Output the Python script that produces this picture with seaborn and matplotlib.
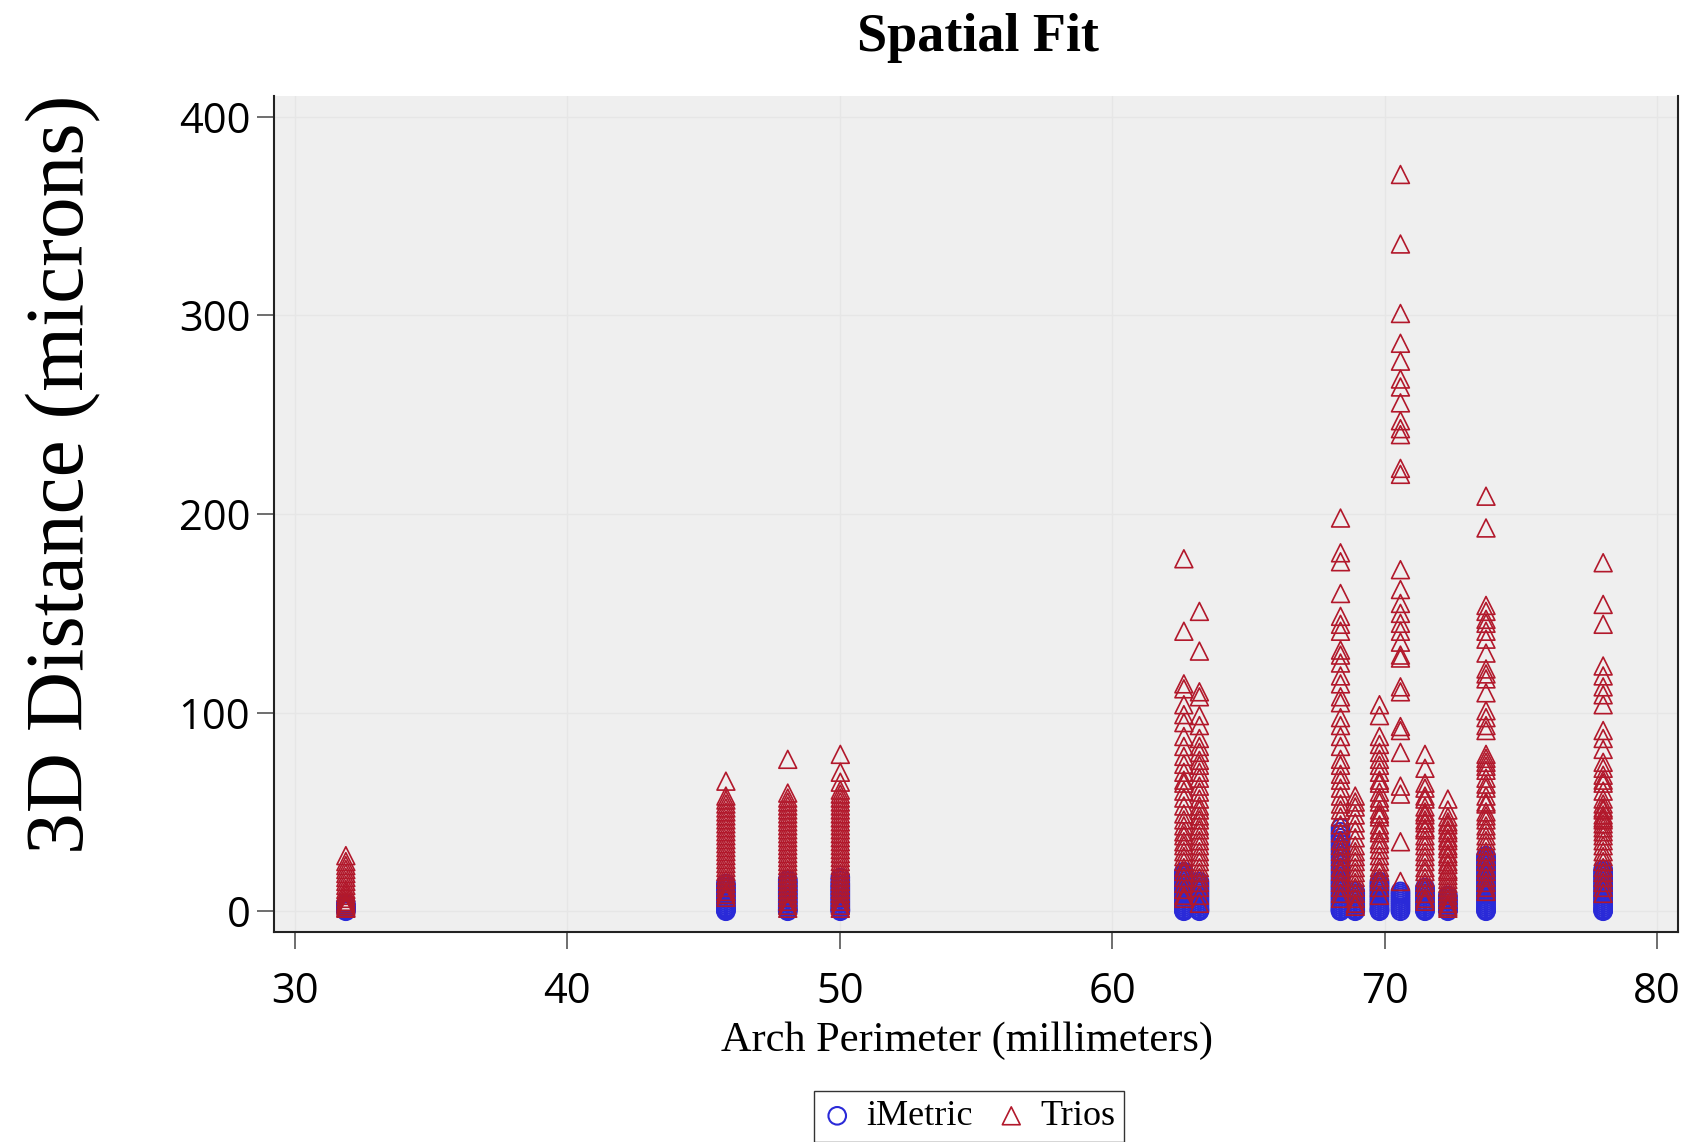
import pandas as pd
import matplotlib
matplotlib.use("Agg")
import matplotlib.pyplot as plt
import seaborn as sns

# arch perimeter (mm) of each scanned arch
arch_perimeter = [31.87, 45.82, 48.09, 50.02, 62.63, 63.2, 68.38, 68.92, 69.81, 70.58, 71.48, 72.32, 73.72, 78.02]

# 3D distance (microns), one list per arch
trios_distance = [
    [28, 25, 23, 21, 19, 17, 15, 13, 11, 9.5, 8, 6.5, 5, 4, 3, 2, 1.5],
    [65.5, 58, 56, 54, 52, 50, 48, 46, 44, 42, 40, 38, 36, 34, 32, 30, 28, 26, 24, 22, 20, 18, 16, 14, 12, 10,
     8.5, 7],
    [76.5, 59.5, 57, 55, 53, 51, 49, 47, 45, 43, 41, 39, 37, 35, 33, 31, 29, 27, 25, 23, 21, 19, 17, 15, 13,
     11, 9, 7, 5, 3, 1.5],
    [79, 70, 65, 61, 59, 57, 55, 53, 51, 49, 47, 45, 43, 41, 39, 37, 35, 33, 31, 29, 27, 25, 23, 21, 19, 17,
     15, 13, 11, 9, 7, 5, 3, 1.5],
    [177.5, 141, 114.5, 112, 104, 99, 95, 88, 83, 78, 74, 70, 66, 64.5, 60.5, 57, 53, 49, 46, 43, 40, 38, 35,
     33, 30, 27.5, 25, 22, 20, 17, 14, 11, 8, 6.5],
    [151, 131, 110.5, 108, 98.5, 93.5, 87, 83, 80, 76, 73.5, 70, 67, 63, 60, 56.5, 53, 51, 48, 46, 43, 41, 38,
     35.5, 33, 30, 27.5, 25, 22, 19.5, 17, 14.5, 12, 8, 4],
    [198, 180.5, 176, 160, 148.5, 144.5, 141, 131.5, 129, 125, 118.5, 114.5, 108, 105, 97.5, 93.5, 88, 83,
     76.5, 73.5, 69, 66, 62, 58, 54, 51, 47.5, 43.5, 39.5, 35.5, 33, 30, 27.5, 25, 22, 20, 17, 14.5, 12, 9,
     6.5],
    [58, 55, 52.5, 48.5, 44.5, 41, 37, 33, 30, 27.5, 25, 22, 19.5, 17, 14.5, 12, 9, 6.5, 4, 2.5],
    [104, 98.5, 88, 84, 80, 76.5, 73.5, 70, 66, 64.5, 60, 57, 55, 51, 49, 47.5, 43.5, 41, 39.5, 36, 34, 31,
     28, 25, 22, 20, 17, 15, 12, 8],
    [371, 336, 301, 286, 277, 268, 264, 256, 247, 243, 240, 223, 220, 172, 162, 155, 150, 145, 141, 135.5,
     129, 127.5, 113, 110.5, 93, 91, 80, 63, 59, 35, 15],
    [79, 72, 64.5, 62, 58, 56.5, 52.5, 50, 48.5, 46, 44.5, 42, 41, 38, 35.5, 33, 30, 27.5, 25, 22, 20, 17,
     14.5, 12, 9, 6.5, 5],
    [56.5, 51, 47.5, 45, 43.5, 41, 39.5, 37, 35.5, 33, 31.5, 29, 27.5, 25, 23.5, 21, 20, 18, 16, 14, 12, 10,
     8, 6, 4, 2.5, 1.5],
    [209, 193, 154, 151, 147, 145, 141, 137, 130, 122, 119.5, 117, 110, 101, 97.5, 93.5, 91, 79, 77, 75, 73,
     71, 67, 64, 62, 58, 55, 54, 50, 48, 46, 43, 41, 38, 35.5, 33, 30, 27.5, 25, 22, 20, 17, 14.5, 12, 10],
    [175.5, 154.5, 144.5, 123.5, 118.5, 113, 109, 104, 91, 87, 81.5, 75, 72, 68.5, 66, 64.5, 60.5, 56.5, 54,
     52, 51, 48.5, 47, 46, 44, 42, 40, 38, 35.5, 33, 30, 27.5, 25, 22, 19.5, 17, 14.5, 12, 9],
]

imetric_distance = [
    [0, 0.5, 1, 1.5, 2, 2.5, 3, 4],
    [0, 0.5, 1, 1.5, 2, 3, 4, 5, 6, 7, 8, 9, 10, 11, 12, 13, 14],
    [0, 0.5, 1, 2, 3, 4, 5, 6, 7, 8, 9, 10, 11, 12, 13, 14, 15, 16],
    [0, 0.5, 1, 2, 3, 4, 5, 6, 7, 8, 9, 10, 11, 12, 13, 14, 15.5, 17],
    [0, 0.5, 1, 2, 3, 4, 5, 6, 7, 8, 9, 10, 11, 12, 13, 14, 15, 16, 17, 18, 19, 20],
    [0, 0.5, 1, 2, 3, 4, 5, 6, 7, 8, 9, 10, 11, 12, 13, 14, 15],
    [0, 0.5, 1, 2, 3, 4, 5, 6, 7, 8, 9, 10, 11, 12, 13, 14, 15, 16, 17.5, 19, 20.5, 22, 23.5, 25, 26.5, 28,
     29.5, 31, 32.5, 34, 35.5, 37, 38.5, 40, 42],
    [0, 0.5, 1, 2, 3, 4, 5, 6, 7, 8, 9, 10],
    [0, 0.5, 1, 2, 3, 4, 5, 6, 7, 8, 9, 10, 11, 12, 13, 14, 15],
    [0, 1, 2, 3, 4, 5, 6, 7, 8, 9, 10],
    [0, 0.5, 1, 2, 3, 4, 5, 6, 7, 8, 9, 10, 11, 12],
    [0, 0.5, 1, 2, 3, 4, 5, 6, 7, 8],
    [0, 0.5, 1, 2, 3, 4, 5, 6, 7, 8, 9, 10, 11, 12, 13, 14, 15, 16, 17, 18, 19, 20, 21, 22, 23, 24, 25, 26,
     27, 28],
    [0, 0.5, 1, 2, 3, 4, 5, 6, 7, 8, 9, 10, 11, 12, 13, 14, 15, 16, 17, 18, 19, 20, 21],
]

x_ticks = [30, 40, 50, 60, 70, 80]
y_ticks = [0, 100, 200, 300, 400]

blue = "#2a2ad8"
red = "#b2182b"

rows = []
for x, vals in zip(arch_perimeter, imetric_distance):
    rows += [("iMetric", x, v) for v in vals]
for x, vals in zip(arch_perimeter, trios_distance):
    rows += [("Trios", x, v) for v in vals]
df = pd.DataFrame(rows, columns=["scanner", "perimeter", "distance"])

sns.set_style("white")
plt.rcParams["text.color"] = "black"
fig = plt.figure(figsize=(16.94, 11.42), dpi=100)
ax = fig.add_axes([0.1617, 0.1838, 0.8289, 0.7321])
ax.set_facecolor("#efefef")

sns.scatterplot(data=df[df.scanner == "iMetric"], x="perimeter", y="distance", marker="o", s=160,
                color=blue, facecolor="none", edgecolor=blue, linewidth=1.5, label="iMetric", ax=ax)
sns.scatterplot(data=df[df.scanner == "Trios"], x="perimeter", y="distance", marker="^", s=165,
                color=red, facecolor="none", edgecolor=red, linewidth=1.2, label="Trios", ax=ax)

ax.set_xlim(29.23, 80.77)
ax.set_ylim(-10.5, 410.5)
ax.set_xticks(x_ticks)
ax.set_yticks(y_ticks)
ax.grid(True, color="#e6e6e6", lw=1)
ax.set_axisbelow(True)
for side in ["left", "bottom", "right"]:
    ax.spines[side].set_color("#222222")
    ax.spines[side].set_linewidth(1.5)
ax.spines["top"].set_visible(False)

ax.tick_params(axis="both", direction="out", length=12, width=1.2, color="#555555",
               labelsize=30, labelcolor="black", left=True, bottom=True)
ax.tick_params(axis="x", pad=16)
ax.tick_params(axis="y", pad=5)
for lab in ax.get_xticklabels() + ax.get_yticklabels():
    lab.set_fontfamily("Open Sans")

ax.set_xlabel("Arch Perimeter (millimeters)", family="Liberation Serif", fontsize=30.5, color="black")
ax.xaxis.set_label_coords(0.4935, -0.107)
ax.set_ylabel("")
fig.text(0.0375, 0.585, "3D Distance (microns)", family="Liberation Serif", fontsize=60,
         rotation=90, ha="center", va="center")
fig.text(0.577, 0.967, "Spatial Fit", family="Liberation Serif", fontweight="bold", fontsize=39,
         ha="center", va="center")

ax.legend_.remove()
handles, labels = ax.get_legend_handles_labels()
fig.legend(handles, labels, loc="center", bbox_to_anchor=(0.572, 0.0222), ncol=2,
           prop={"family": "Liberation Serif", "size": 26}, frameon=True, fancybox=False,
           edgecolor="#333333", framealpha=1, handletextpad=0.4, columnspacing=0.67,
           borderpad=0.25, handlelength=0.8)

fig.savefig("out.png", dpi=100)
